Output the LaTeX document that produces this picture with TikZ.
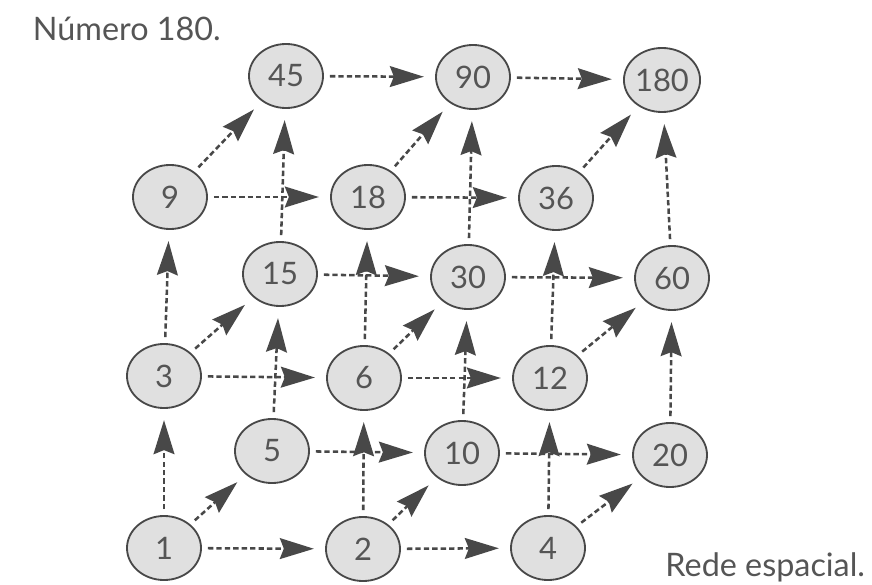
\documentclass[tikz,border=0pt]{standalone}
\usepackage{fontspec}
\setmainfont{Lato}
\usepackage{tikz}
\usetikzlibrary{arrows.meta,shapes.geometric}
\definecolor{ink}{HTML}{484848}
\definecolor{nodefill}{HTML}{E0E0E0}
\definecolor{txt}{HTML}{555555}
\tikzset{
  num/.style={ellipse, draw=ink, line width=1.3pt, fill=nodefill, text=txt,
    minimum width=1.85cm, minimum height=1.6cm, inner sep=0pt,
    font=\fontsize{22}{22}\selectfont},
  link/.style={draw=ink, line width=1.8pt, dash pattern=on 3.8pt off 2.2pt,
    -{Stealth[length=8.5mm,width=5.2mm,inset=1mm,fill=ink]},
    shorten <=1.5mm, shorten >=2.8mm},
  captxt/.style={text=txt, font=\fontsize{23}{23}\selectfont}
}
\begin{document}
\begin{tikzpicture}[x=0.025cm,y=-0.025cm]
  \useasboundingbox (0,0) rectangle (872,584);

  % front face
  \node[num] (n1)  at (164,548) {1};
  \node[num] (n2)  at (363,549) {2};
  \node[num] (n4)  at (548,548) {4};
  \node[num] (n3)  at (164,376) {3};
  \node[num] (n6)  at (364,378) {6};
  \node[num] (n12) at (550,378) {12};
  \node[num] (n9)  at (170,197) {9};
  \node[num] (n18) at (368,197) {18};
  \node[num] (n36) at (556,198) {36};

  % back face
  \node[num] (n5)   at (272,451) {5};
  \node[num] (n10)  at (462,453) {10};
  \node[num] (n20)  at (670,455) {20};
  \node[num] (n15)  at (280,274) {15};
  \node[num] (n30)  at (468,277) {30};
  \node[num] (n60)  at (672,278) {60};
  \node[num] (n45)  at (286,76)  {45};
  \node[num] (n90)  at (473,77)  {90};
  \node[num] (n180) at (662,80)  {180};

  % times 2
  \foreach \a/\b in {1/2,2/4,3/6,6/12,9/18,18/36,5/10,10/20,15/30,30/60,45/90,90/180}
    \draw[link] (n\a) -- (n\b);
  % times 3
  \foreach \a/\b in {1/3,3/9,2/6,6/18,4/12,12/36,5/15,15/45,10/30,30/90,20/60,60/180}
    \draw[link] (n\a) -- (n\b);
  % times 5
  \foreach \a/\b in {1/5,2/10,4/20,3/15,6/30,12/60,9/45,18/90,36/180}
    \draw[link] (n\a) -- (n\b);

  \node[captxt, anchor=base west] (title) at (28,41) {Número 180.};
  \node[captxt, anchor=base east] (legend) at (870,576) {Rede espacial.};
\end{tikzpicture}
\end{document}
